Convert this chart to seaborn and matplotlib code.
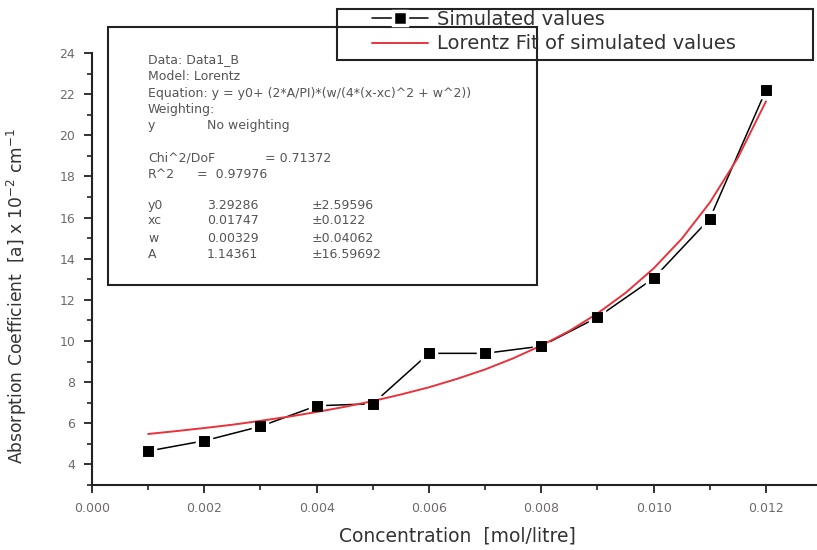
import numpy as np
import pandas as pd
import matplotlib
matplotlib.use("Agg")
import matplotlib.pyplot as plt
from matplotlib.patches import Rectangle
from matplotlib.ticker import MultipleLocator, FormatStrFormatter
import seaborn as sns

# ---- data ----
conc = [0.001, 0.002, 0.003, 0.004, 0.005, 0.006, 0.007, 0.008, 0.009, 0.010, 0.011, 0.012]
simulated = [4.65, 5.15, 5.85, 6.85, 6.95, 9.4, 9.4, 9.75, 11.15, 13.05, 15.95, 22.2]

fit_x = [0.0010, 0.0015, 0.0020, 0.0025, 0.0030, 0.0035, 0.0040, 0.0045, 0.0050,
         0.0055, 0.0060, 0.0065, 0.0070, 0.0075, 0.0080, 0.0085, 0.0090, 0.0095,
         0.0100, 0.0105, 0.0110, 0.0115, 0.0120]
fit_y = [5.48, 5.62, 5.77, 5.93, 6.12, 6.32, 6.55, 6.80, 7.08,
         7.40, 7.75, 8.16, 8.62, 9.16, 9.78, 10.49, 11.34, 12.34,
         13.53, 14.97, 16.73, 18.91, 21.65]

x_ticks = [0.000, 0.002, 0.004, 0.006, 0.008, 0.010, 0.012]
y_ticks = [4, 6, 8, 10, 12, 14, 16, 18, 20, 22, 24]

label_sim = "Simulated values"
label_fit = "Lorentz Fit of simulated values"

info_lines = [
    ("Data: Data1_B", None, None, 60),
    ("Model: Lorentz", None, None, 76),
    ("Equation: y = y0+ (2*A/PI)*(w/(4*(x-xc)^2 + w^2))", None, None, 93),
    ("Weighting:", None, None, 109),
    ("y", "No weighting", None, 125),
    ("Chi^2/DoF", None, None, 158),
    ("R^2", None, None, 174),
    ("y0", "3.29286", "\u00b12.59596", 205),
    ("xc", "0.01747", "\u00b10.0122", 221),
    ("w", "0.00329", "\u00b10.04062", 238),
    ("A", "1.14361", "\u00b116.59692", 254),
]

sim_df = pd.DataFrame({"x": conc, "y": simulated})
fit_df = pd.DataFrame({"x": fit_x, "y": fit_y})

sns.set_theme(style="ticks")
plt.rcParams["font.family"] = ["DejaVu Sans"]

W, H = 817, 550
fig = plt.figure(figsize=(W / 100, H / 100), dpi=100)
ax = fig.add_axes([92 / W, 1 - 485 / H, 1 - 92 / W, (485 - 53) / H])

# black line with white-ringed markers -> small gaps between line and symbol
sns.lineplot(data=sim_df, x="x", y="y", ax=ax, color="black", lw=1.1,
             marker="s", markersize=9.5, markerfacecolor="black",
             markeredgecolor="white", markeredgewidth=2.5,
             label=label_sim, zorder=2)
sns.lineplot(data=fit_df, x="x", y="y", ax=ax, color="#e8333c", lw=1.4,
             label=label_fit, zorder=3)
sns.scatterplot(data=sim_df, x="x", y="y", ax=ax, color="black", marker="s",
                s=45, edgecolor="black", zorder=4, legend=False)

ax.set_xlim(0, 0.012 + (W - 766) / 112.3 * 0.002)
ax.set_ylim(3, 24)
ax.set_xticks(x_ticks)
ax.set_yticks(y_ticks)
ax.xaxis.set_major_formatter(FormatStrFormatter("%.3f"))
ax.xaxis.set_minor_locator(MultipleLocator(0.001))
ax.yaxis.set_minor_locator(MultipleLocator(1))

for s in ["top", "right"]:
    ax.spines[s].set_visible(False)
for s in ["left", "bottom"]:
    ax.spines[s].set_linewidth(1.5)
    ax.spines[s].set_color("#222222")

ax.tick_params(axis="both", which="major", direction="out", length=6, width=1.3,
               color="#222222", labelsize=9, labelcolor="#6e6a6c", pad=6)
ax.tick_params(axis="both", which="minor", direction="out", length=3.5, width=1.2,
               color="#222222")

ax.set_xlabel("Concentration  [mol/litre]", fontsize=13.5, color="#333333")
ax.set_ylabel(r"Absorption Coefficient  [a] x 10$^{-2}$ cm$^{-1}$", fontsize=12.3,
              color="#333333")
ax.xaxis.set_label_coords((457 - 92) / (W - 92), -(527 - 485) / (485 - 53))
ax.yaxis.set_label_coords(-(92 - 29) / (W - 92), (485 - 296) / (485 - 53))

handles, labels = ax.get_legend_handles_labels()
ax.get_legend().remove()

# Legend (drawn without its own frame, then boxed)
fig.legend(handles, labels, loc="upper left", frameon=False,
           bbox_to_anchor=(372 / W, 1 - 10 / H), borderpad=0, borderaxespad=0,
           handlelength=2.9, handletextpad=0.45, labelspacing=0.28,
           fontsize=14, labelcolor="#333333", numpoints=1)
fig.patches.append(Rectangle((337 / W, 1 - 60 / H), (813 - 337) / W, 51 / H,
                             transform=fig.transFigure, fill=False,
                             edgecolor="#222222", lw=1.5, zorder=5))

# Fit report box
fig.patches.append(Rectangle((108 / W, 1 - 285 / H), (537 - 108) / W, (285 - 27) / H,
                             transform=fig.transFigure, facecolor="white",
                             edgecolor="#222222", lw=1.5, zorder=1))
txt_kw = dict(fontsize=9, color="#555555", va="center", ha="left", zorder=6)
for c1, c2, c3, ypx in info_lines:
    fig.text(148 / W, 1 - ypx / H, c1, **txt_kw)
    if c2:
        fig.text(207 / W, 1 - ypx / H, c2, **txt_kw)
    if c3:
        fig.text(312 / W, 1 - ypx / H, c3, **txt_kw)
fig.text(265 / W, 1 - 158 / H, "= 0.71372", **txt_kw)
fig.text(197 / W, 1 - 174 / H, "=  0.97976", **txt_kw)

fig.savefig("out.png", dpi=100)
